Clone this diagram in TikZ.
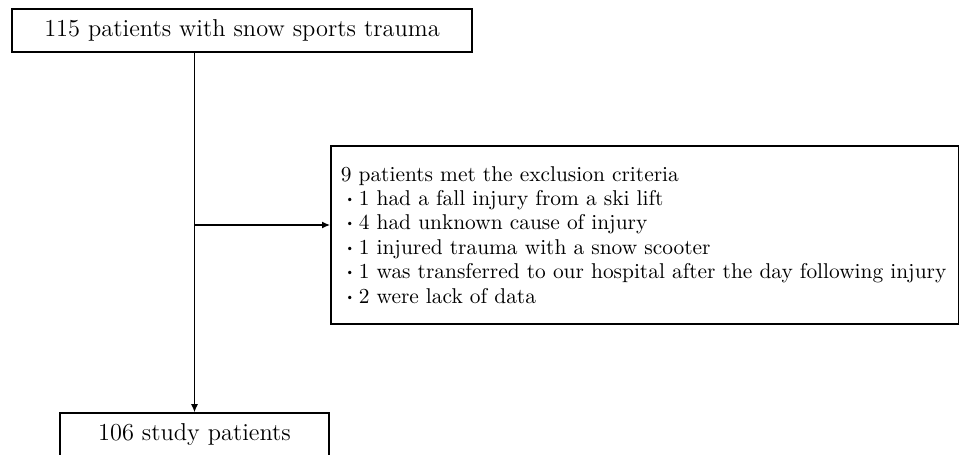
\documentclass[tikz,border=0pt]{standalone}
\usepackage{amsmath,amssymb}
\usepackage{tikz}
\usetikzlibrary{arrows.meta,positioning}

\newcommand{\listdot}{\makebox[9pt]{$\boldsymbol{\cdot}$}}

\begin{document}
\begin{tikzpicture}[x=0.5pt, y=-0.5pt,
    every node/.style={font=\fontsize{12.2}{12.2}\selectfont},
    box/.style={draw, line width=0.8pt, inner sep=0pt},
    flow/.style={line width=0.6pt, -{Latex[length=4pt, width=3.5pt]}}]
    \useasboundingbox (0,0) rectangle (959,455);

    \node[box, minimum width=230pt, minimum height=21.5pt] (total) at (242,30.5) {115 patients with snow sports trauma};
    \node[box, minimum width=134.5pt, minimum height=22pt] (study) at (194.5,435) {106 study patients};
    \node[box, minimum width=314pt, minimum height=89pt, anchor=north west, align=left, text width=304pt,
          font=\fontsize{10.7}{12.2}\selectfont] (excl) at (330,145)
        {9 patients met the exclusion criteria\\
         \listdot 1 had a fall injury from a ski lift\\
         \listdot 4 had unknown cause of injury\\
         \listdot 1 injured trauma with a snow scooter\\
         \listdot 1 was transferred to our hospital after the day following injury\\
         \listdot 2 were lack of data};

    \coordinate (split) at (194.5,225);

    \draw[flow] (total.south -| study.north) -- (study.north);
    \draw[flow] (split) -- (excl.west |- split);
\end{tikzpicture}
\end{document}
